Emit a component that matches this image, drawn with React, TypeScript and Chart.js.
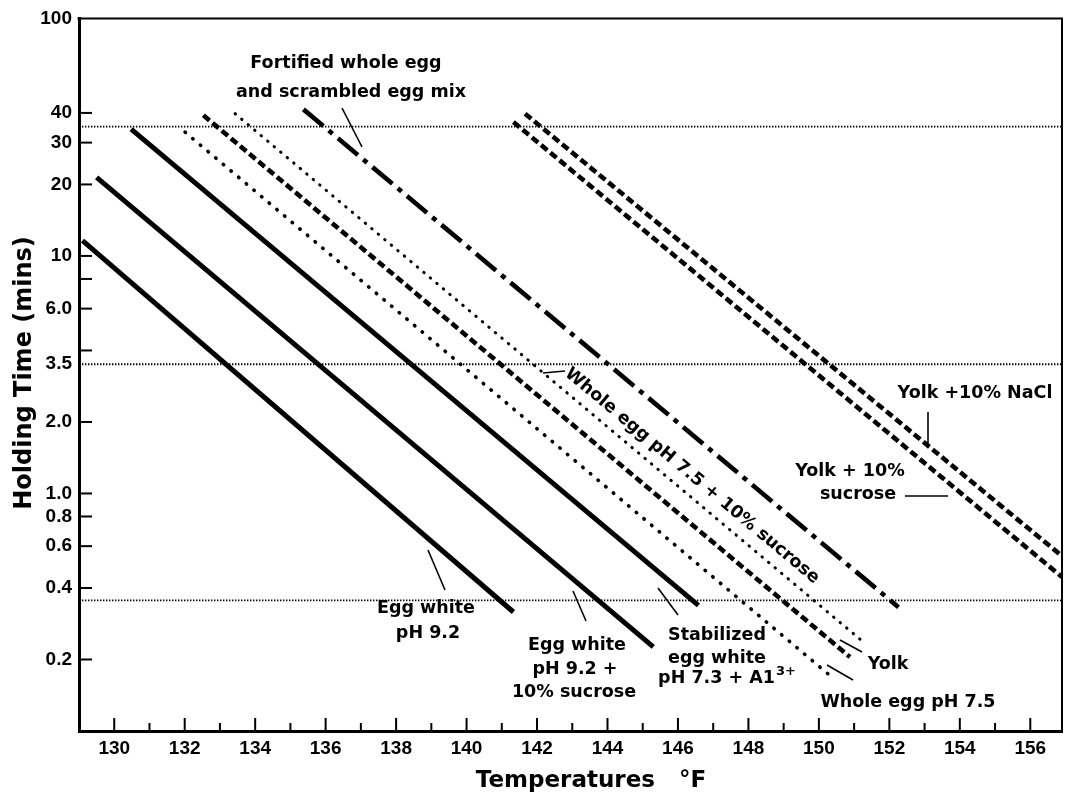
import { useEffect, useRef } from 'react';
import { Chart, registerables } from 'chart.js';

Chart.register(...registerables);

// ---------- data ----------
const curveNames = [
  'Egg white pH 9.2',
  'Egg white pH 9.2 + 10% sucrose',
  'Stabilized egg white pH 7.3 + A1³⁺',
  'Whole egg pH 7.5',
  'Whole egg pH 7.5 + 10% sucrose',
  'Yolk',
  'Fortified whole egg and scrambled egg mix',
  'Yolk + 10% sucrose',
  'Yolk + 10% NaCl',
];
const startTemps = [129.1, 129.5, 130.48, 132.01, 133.43, 132.53, 135.37, 141.33, 141.66];
const startTimes = [11.6, 21.4, 34.2, 33.2, 39.7, 39.1, 41.4, 36.6, 39.7];
const endTemps = [141.33, 145.3, 146.58, 150.36, 151.26, 150.88, 152.26, 156.9, 156.9];
const endTimes = [0.317, 0.226, 0.338, 0.169, 0.237, 0.205, 0.332, 0.445, 0.545];

const refLevels = [35, 3.5, 0.355];

const xMin = 129;
const xMax = 156.9;
const yMin = 0.1;
const yMax = 100;
const xTickValues = [130, 131, 132, 133, 134, 135, 136, 137, 138, 139, 140, 141, 142, 143, 144, 145, 146, 147, 148, 149, 150, 151, 152, 153, 154, 155, 156];
const yTickValues = [0.2, 0.4, 0.6, 0.8, 1, 2, 3.5, 4, 6, 8, 10, 20, 30, 40, 100];
const yTickLabels = ['0.2', '0.4', '0.6', '0.8', '1.0', '2.0', '3.5', '', '6.0', '', '10', '20', '30', '40', '100'];

// ---------- styles ----------
const curveStyles = [
  { w: 5, dash: [], cap: 'butt' },
  { w: 5, dash: [], cap: 'butt' },
  { w: 5, dash: [], cap: 'butt' },
  { w: 3.6, dash: [0.5, 9.5], cap: 'round' },
  { w: 3, dash: [0.5, 8], cap: 'round' },
  { w: 4.6, dash: [8, 4], cap: 'butt' },
  { w: 4.6, dash: [26, 7, 5, 7], cap: 'butt' },
  { w: 4.6, dash: [8, 4], cap: 'butt' },
  { w: 4.6, dash: [8, 4], cap: 'butt' },
];

const LABEL_FONT = 'bold 17.5px "DejaVu Sans"';
const TICK_FONT_FAMILY = '"Liberation Sans"';

// annotation texts (pixel positions on the 1066x796 canvas)
const textLabels = [
  { t: 'Fortified whole egg', x: 346, y: 68 },
  { t: 'and scrambled egg mix', x: 351, y: 97 },
  { t: 'Egg white', x: 426, y: 613 },
  { t: 'pH 9.2', x: 428, y: 638 },
  { t: 'Egg white', x: 577, y: 650 },
  { t: 'pH 9.2 +', x: 575, y: 674 },
  { t: '10% sucrose', x: 574, y: 697 },
  { t: 'Stabilized', x: 717, y: 640 },
  { t: 'egg white', x: 717, y: 663 },
  { t: 'Yolk', x: 888, y: 669 },
  { t: 'Whole egg pH 7.5', x: 908, y: 707 },
  { t: 'Yolk +10% NaCl', x: 975, y: 398 },
  { t: 'Yolk + 10%', x: 850, y: 476 },
  { t: 'sucrose', x: 858, y: 499 },
];
const leaders = [
  [342, 108, 362, 147],
  [428, 550, 445, 590],
  [573, 591, 586, 621],
  [658, 588, 678, 615],
  [543, 373, 565, 371],
  [840, 640, 862, 652],
  [827, 665, 853, 680],
  [928, 412, 928, 443],
  [905, 496, 948, 496],
];

const decorPlugin = {
  id: 'decor',
  afterDraw(chart: any) {
    const ctx = chart.ctx;
    const { left, right, top, bottom } = chart.chartArea;
    ctx.save();
    ctx.strokeStyle = '#000';
    ctx.fillStyle = '#000';
    // top and right frame
    ctx.lineWidth = 2;
    ctx.beginPath();
    ctx.moveTo(left - 1.5, top);
    ctx.lineTo(right, top);
    ctx.lineTo(right, bottom + 1.5);
    ctx.stroke();
    // inward tick marks
    const xs = chart.scales.x;
    ctx.lineWidth = 2;
    xs.ticks.forEach((t: any) => {
      const px = xs.getPixelForValue(t.value);
      const len = t.value % 2 === 0 ? 13 : 8;
      ctx.beginPath();
      ctx.moveTo(px, bottom);
      ctx.lineTo(px, bottom - len);
      ctx.stroke();
    });
    const ys = chart.scales.y;
    ys.ticks.forEach((t: any) => {
      if (t.value === 3.5 || t.value === 100) return;
      const py = ys.getPixelForValue(t.value);
      ctx.beginPath();
      ctx.moveTo(left, py);
      ctx.lineTo(left + 13, py);
      ctx.stroke();
    });
    // leaders
    ctx.lineWidth = 1.6;
    leaders.forEach(([x1, y1, x2, y2]) => {
      ctx.beginPath();
      ctx.moveTo(x1, y1);
      ctx.lineTo(x2, y2);
      ctx.stroke();
    });
    // labels
    ctx.font = LABEL_FONT;
    ctx.textAlign = 'center';
    ctx.textBaseline = 'alphabetic';
    textLabels.forEach((l) => ctx.fillText(l.t, l.x, l.y));
    // label with superscript
    const main = 'pH 7.3 + A1';
    const sup = '3+';
    ctx.font = LABEL_FONT;
    const wMain = ctx.measureText(main).width;
    ctx.font = 'bold 13px "DejaVu Sans"';
    const wSup = ctx.measureText(sup).width;
    const startX = 727 - (wMain + wSup + 1) / 2;
    ctx.textAlign = 'left';
    ctx.font = LABEL_FONT;
    ctx.fillText(main, startX, 683);
    ctx.font = 'bold 13px "DejaVu Sans"';
    ctx.fillText(sup, startX + wMain + 1, 675);
    // rotated label
    ctx.save();
    ctx.translate(692, 476);
    ctx.rotate(Math.atan(0.836));
    ctx.font = LABEL_FONT;
    ctx.textAlign = 'center';
    ctx.textBaseline = 'middle';
    ctx.fillText('Whole egg pH 7.5 + 10% sucrose', 0, 0);
    ctx.restore();
    // axis titles
    ctx.save();
    ctx.translate(22, 373);
    ctx.rotate(-Math.PI / 2);
    ctx.font = 'bold 24px "DejaVu Sans"';
    ctx.textAlign = 'center';
    ctx.textBaseline = 'alphabetic';
    ctx.fillText('Holding Time (mins)', 0, 9);
    ctx.restore();
    ctx.font = 'bold 23px "DejaVu Sans"';
    ctx.textAlign = 'center';
    ctx.textBaseline = 'alphabetic';
    ctx.fillText('Temperatures   °F', 591, 787);
    ctx.restore();
  },
};

export default function App() {
  const ref = useRef<HTMLCanvasElement>(null);
  useEffect(() => {
    if (!ref.current) return;
    const curveSets = curveNames.map((name, i) => ({
      label: name,
      data: [
        { x: startTemps[i], y: startTimes[i] },
        { x: endTemps[i], y: endTimes[i] },
      ],
      borderColor: '#000',
      borderWidth: curveStyles[i].w,
      borderDash: curveStyles[i].dash,
      borderCapStyle: curveStyles[i].cap as any,
      pointRadius: 0,
      fill: false,
      tension: 0,
    }));
    const refSets = refLevels.map((v) => ({
      label: 'ref ' + v,
      data: [
        { x: xMin, y: v },
        { x: xMax, y: v },
      ],
      borderColor: '#000',
      borderWidth: 1.8,
      borderDash: [1.4, 1.6],
      pointRadius: 0,
      fill: false,
    }));
    const chart = new Chart(ref.current, {
      type: 'line',
      data: { datasets: [...refSets, ...curveSets] as any },
      options: {
        animation: false,
        responsive: false,
        devicePixelRatio: 1,
        layout: { padding: { top: 16, right: 4, left: 0, bottom: 0 } },
        plugins: { legend: { display: false }, tooltip: { enabled: false } },
        scales: {
          x: {
            type: 'linear',
            min: xMin,
            max: xMax,
            afterBuildTicks: (s: any) => {
              s.ticks = xTickValues.map((v) => ({ value: v }));
            },
            afterFit: (s: any) => {
              s.height = 65;
            },
            ticks: {
              autoSkip: false,
              maxRotation: 0,
              padding: 6,
              color: '#000',
              font: { family: TICK_FONT_FAMILY, size: 19, weight: 'bold' },
              callback: (v: any) => (Number(v) % 2 === 0 ? String(v) : ''),
            },
            grid: { display: true, drawOnChartArea: false, drawTicks: false },
            border: { display: true, color: '#000', width: 3 },
          },
          y: {
            type: 'logarithmic',
            min: yMin,
            max: yMax,
            afterBuildTicks: (s: any) => {
              s.ticks = yTickValues.map((v) => ({ value: v }));
            },
            afterFit: (s: any) => {
              s.width = 79;
            },
            ticks: {
              autoSkip: false,
              padding: 7,
              color: '#000',
              font: { family: TICK_FONT_FAMILY, size: 19, weight: 'bold' },
              callback: (v: any) => {
                const i = yTickValues.indexOf(Number(v));
                return i >= 0 ? yTickLabels[i] : '';
              },
            },
            grid: { display: true, drawOnChartArea: false, drawTicks: false },
            border: { display: true, color: '#000', width: 3 },
          },
        },
      },
      plugins: [decorPlugin],
    });
    return () => chart.destroy();
  }, []);
  return (
    <div style={{ position: 'absolute', left: 0, top: 0, width: 1066, height: 796, background: '#fff' }}>
      <canvas ref={ref} width={1066} height={796} style={{ display: 'block' }} />
    </div>
  );
}
